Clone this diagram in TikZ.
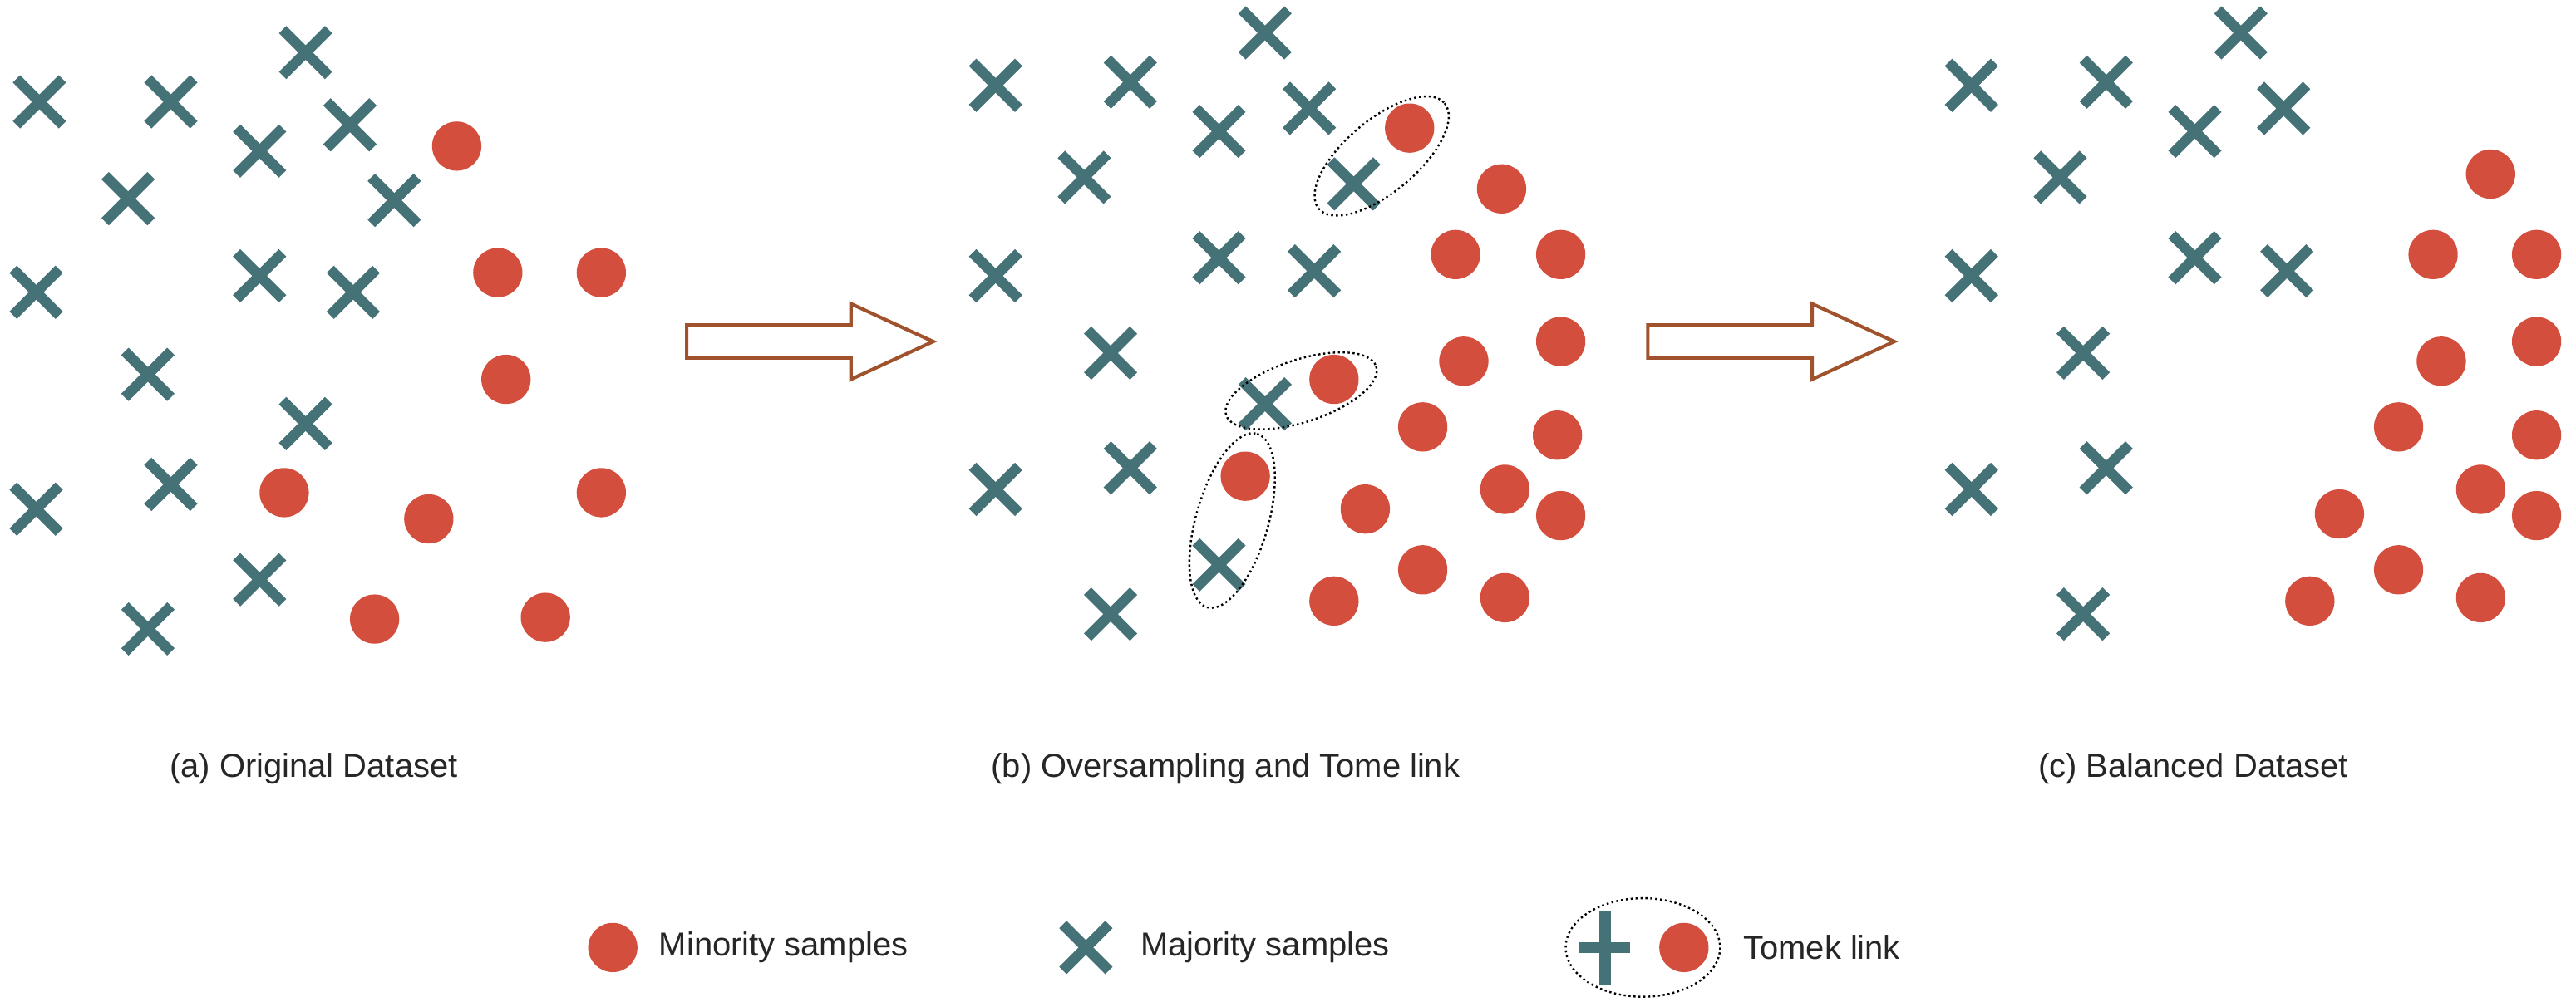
\documentclass[tikz,border=0pt]{standalone}
\usepackage{fontspec}
\setmainfont{Liberation Sans}
\definecolor{xc}{HTML}{457277}
\definecolor{oc}{HTML}{D44E3E}
\definecolor{ac}{HTML}{A0522D}
\newcommand{\Xm}[2]{\draw[xc,line width=3.6pt] (#1-14,#2-14)--(#1+14,#2+14) (#1-14,#2+14)--(#1+14,#2-14);}
\newcommand{\Om}[2]{\fill[oc] (#1,#2) circle[radius=15];}
\begin{document}
\begin{tikzpicture}[x=0.02cm,y=-0.02cm,
  tl/.style={draw=black,densely dotted,line width=0.7pt},
  lab/.style={font=\fontsize{11.5}{14}\selectfont,text=black!85}]
\useasboundingbox (0,0) rectangle (1568,612.8);
% panel a
\foreach \a/\b in {24/62,104/62,186/32,158/92,213/76,78/121,240/122,22/178,158/168,215/178,90/228,186/258,22/310,104/295,158/353,90/383}{\Xm{\a}{\b}}
\foreach \a/\b in {278/89,303/166,366/166,308/231,173/300,261/316,366/300,228/377,332/376}{\Om{\a}{\b}}
% panel b
\foreach \a/\b in {606/52,688/50,770/20,742/80,797/66,660/108,824/112,606/168,742/157,800/165,676/215,770/246,606/298,688/285,742/344,676/374}{\Xm{\a}{\b}}
\foreach \a/\b in {858/78,914/115,886/155,950/155,891/220,950/208,812/231,866/260,948/265,758/290,831/310,916/298,950/314,866/347,812/366,916/364}{\Om{\a}{\b}}
\draw[tl,rotate around={40:(841,95)}] (841,95) ellipse[x radius=50,y radius=22];
\draw[tl,rotate around={18:(792,238)}] (792,238) ellipse[x radius=48,y radius=19];
\draw[tl,rotate around={74:(750,317)}] (750,317) ellipse[x radius=55,y radius=22];
% panel c
\foreach \a/\b in {1200/52,1282/50,1364/20,1336/80,1390/66,1254/108,1200/168,1336/157,1392/165,1268/215,1282/285,1200/298,1268/374}{\Xm{\a}{\b}}
\foreach \a/\b in {1516/106,1481/155,1544/155,1486/220,1544/208,1460/260,1544/265,1510/298,1424/313,1544/314,1460/347,1406/366,1510/364}{\Om{\a}{\b}}
% arrows
\foreach \s in {418,1003}{
\draw[ac,line width=1.2pt,fill=white,line join=miter] (\s,198)--(\s+100,198)--(\s+100,185)--(\s+150,208)--(\s+100,231)--(\s+100,218)--(\s,218)--cycle;}
% labels
\node[lab] (la) at (191,468) {(a) Original Dataset};
\node[lab] (lb) at (746,468) {(b) Oversampling and Tome link};
\node[lab] (lc) at (1335,468) {(c) Balanced Dataset};
% legend
\Om{373}{577}
\node[lab,anchor=west] (l1) at (395,577) {Minority samples};
\Xm{661}{577}
\node[lab,anchor=west] (l2) at (688,577) {Majority samples};
\draw[tl] (1000,577) ellipse[x radius=47,y radius=30];
\draw[xc,line width=3.8pt] (977,555)--(977,600) (961,577)--(992,577);
\Om{1025}{577}
\node[lab,anchor=west] (l3) at (1055,577) {Tomek link};
\end{tikzpicture}
\end{document}
